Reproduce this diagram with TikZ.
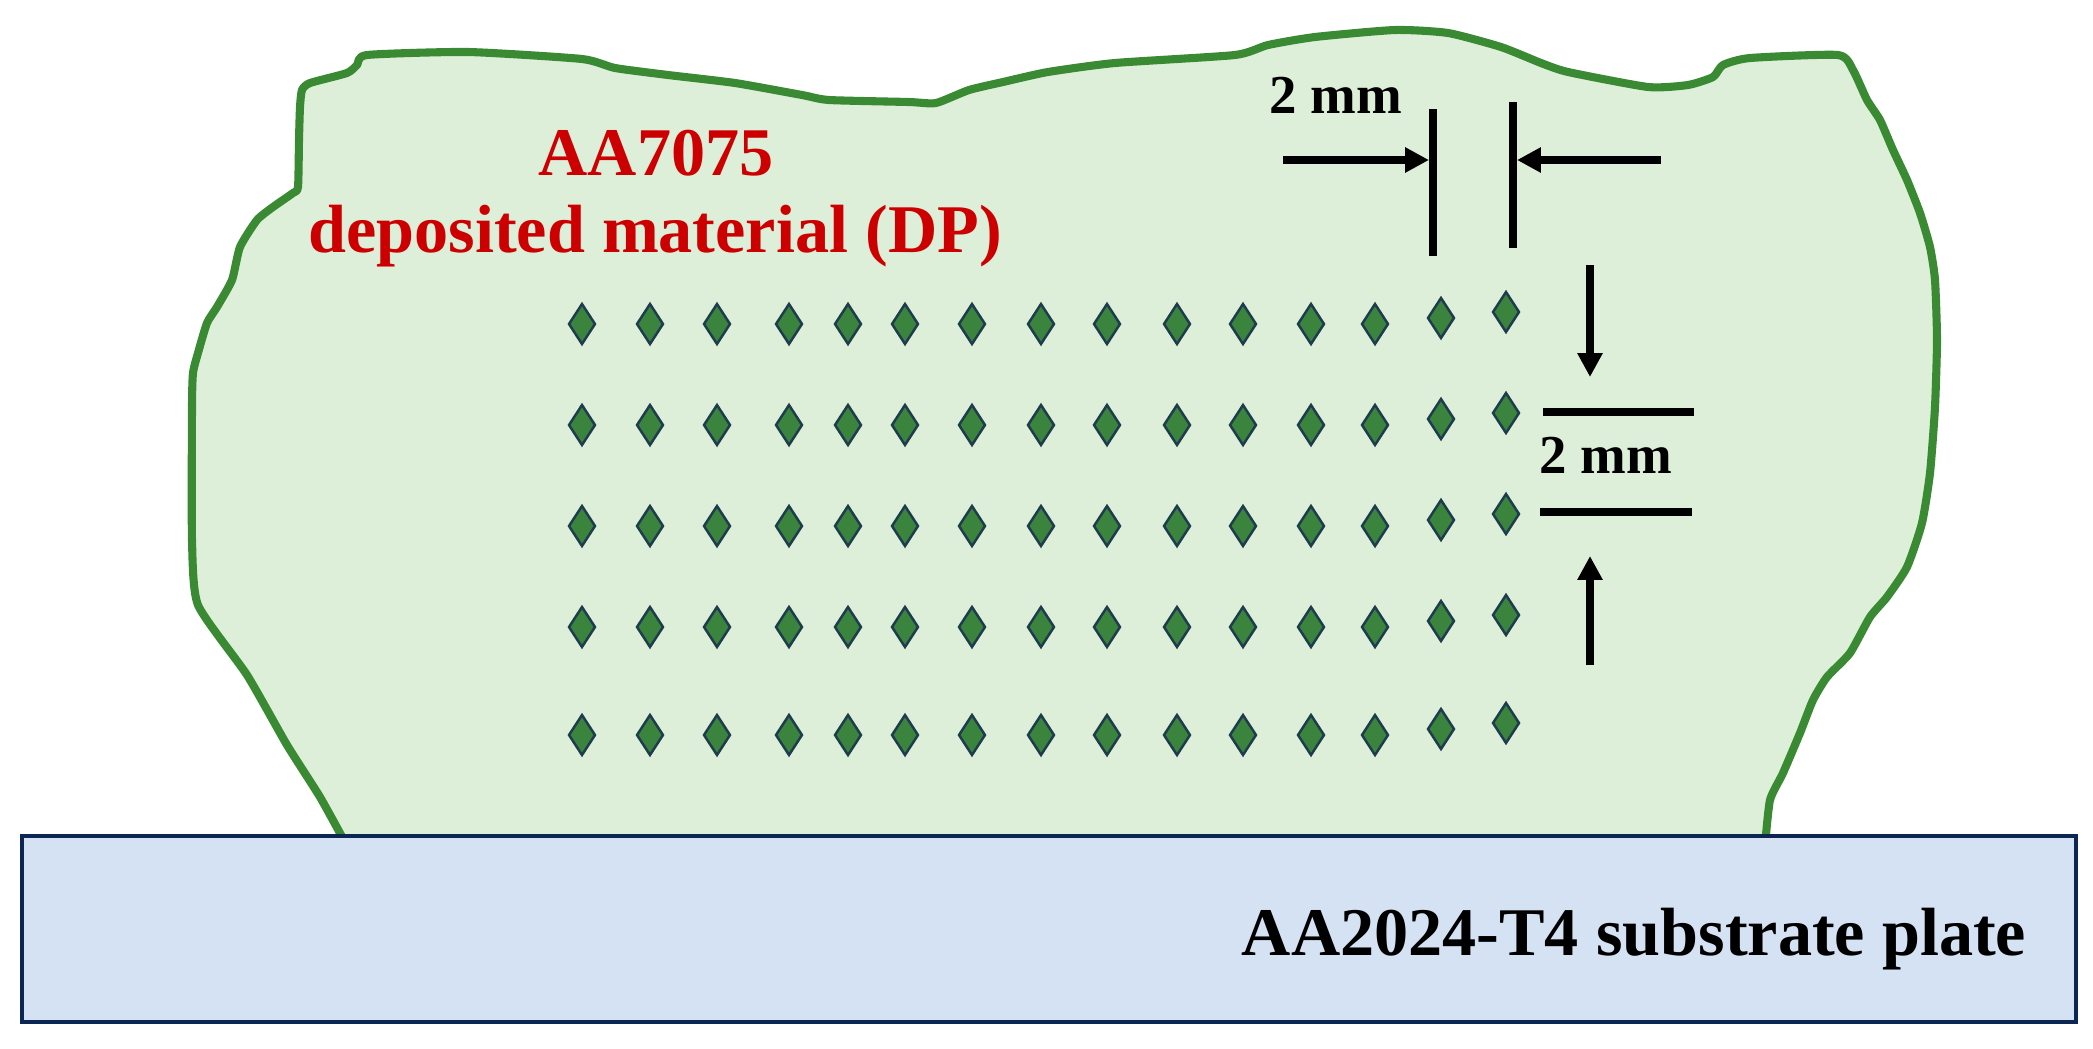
\documentclass[tikz,border=0pt]{standalone}
\usepackage{fontspec}
\setmainfont{Liberation Serif}
\usetikzlibrary{arrows.meta}
\definecolor{dpfill}{RGB}{222,239,217}
\definecolor{dpline}{RGB}{58,138,52}
\definecolor{subfill}{RGB}{213,226,243}
\definecolor{subline}{RGB}{12,38,84}
\definecolor{dmfill}{RGB}{58,132,62}
\definecolor{dmline}{RGB}{30,60,78}
\definecolor{redtxt}{RGB}{204,0,0}
\begin{document}
\begin{tikzpicture}[x=0.01cm,y=-0.01cm,
  bigtext/.style={inner sep=0pt,font=\fontsize{19.4pt}{23pt}\selectfont\bfseries},
  dimtext/.style={inner sep=0pt,font=\fontsize{15.6pt}{19pt}\selectfont\bfseries},
  dimline/.style={line width=2.1pt},
  dimarrow/.style={line width=2.1pt,-{Triangle[length=6.8pt,width=6.8pt]}},
  indent/.style={fill=dmfill,draw=dmline,line width=0.7pt,line join=miter}]
\useasboundingbox (0,0) rectangle (2093,1048);
\fill[white] (0,0) rectangle (2093,1048);
% deposited material outline
\filldraw[fill=dpfill,draw=dpline,line width=2.3pt,line join=round]
 plot[smooth,tension=0.35] coordinates {
 (347,846) (320,797) (287,745) (247,675) (198,605) (192,540) (192,407) (193,373)
 (198,353) (207,323) (217,307) (232,280) (240,247) (257,220) (273,207) (293,193)
 (298,187) (299,140) (300,107) (302,90) (310,83) (347,73) (357,65) (367,55)
 (468,52) (582,59) (615,68) (668,75) (735,83) (802,95) (829,100) (909,102) (936,103)
 (969,90) (1003,82) (1048,72) (1115,63) (1235,55) (1268,45) (1315,37) (1395,30)
 (1448,33) (1501,47) (1541,63) (1568,72) (1648,87) (1688,85) (1713,77) (1723,65)
 (1750,58) (1838,55) (1853,70) (1867,100) (1880,120) (1893,150) (1907,180)
 (1920,213) (1930,247) (1935,280) (1937,340) (1935,407) (1930,473) (1922,523)
 (1907,567) (1887,597) (1870,617) (1850,653) (1827,677) (1813,700) (1800,733)
 (1783,773) (1770,800) (1765,846)} -- cycle;
% substrate plate
\node[draw=subline,fill=subfill,line width=1pt,inner sep=0pt,outer sep=0pt,
      minimum width=20.53cm,minimum height=1.86cm,anchor=north west] (plate) at (22,836) {};
\node[bigtext,anchor=base east] (platelbl) at (2027,955) {AA2024-T4 substrate plate};
% deposited material label
\node[bigtext,text=redtxt,anchor=base] (dp1) at (656,175) {AA7075};
\node[bigtext,text=redtxt,anchor=base] (dp2) at (655,252) {deposited material (DP)};
% indentation grid
\foreach \x [count=\i] in {582,650,717,789,848,905,972,1041,1107,1177,1243,1311,1375,1441,1506}{
  \pgfmathsetmacro{\off}{\i==14 ? -6 : (\i==15 ? -12 : 0)}
  \foreach \y in {324,425,526,627,735}{
    \path[indent] (\x,\y+\off-20) -- (\x+13,\y+\off) -- (\x,\y+\off+20) -- (\x-13,\y+\off) -- cycle;
  }
}
% horizontal 2 mm dimension
\coordinate (v1t) at (1433,109); \coordinate (v1b) at (1433,256);
\coordinate (v2t) at (1513,102); \coordinate (v2b) at (1513,248);
\draw[dimline] (v1t) -- (v1b);
\draw[dimline] (v2t) -- (v2b);
\coordinate (la) at (1283,160); \coordinate (lat) at (1429,160);
\coordinate (ra) at (1661,160); \coordinate (rat) at (1517,160);
\draw[dimarrow] (la) -- (lat);
\draw[dimarrow] (ra) -- (rat);
\node[dimtext,anchor=base] (hlbl) at (1336,113) {2 mm};
% vertical 2 mm dimension
\coordinate (h1l) at (1543,412); \coordinate (h1r) at (1694,412);
\coordinate (h2l) at (1540,512); \coordinate (h2r) at (1692,512);
\draw[dimline] (h1l) -- (h1r);
\draw[dimline] (h2l) -- (h2r);
\coordinate (da) at (1590,265); \coordinate (dat) at (1590,377);
\coordinate (ua) at (1590,665); \coordinate (uat) at (1590,556);
\draw[dimarrow] (da) -- (dat);
\draw[dimarrow] (ua) -- (uat);
\node[dimtext,anchor=base] (vlbl) at (1606,473) {2 mm};
\end{tikzpicture}
\end{document}
